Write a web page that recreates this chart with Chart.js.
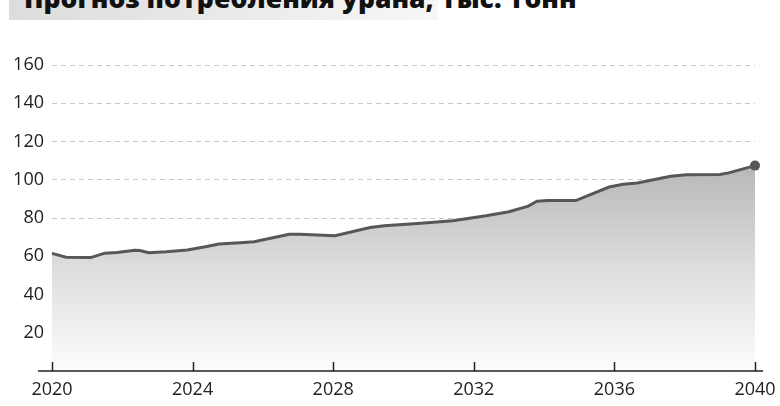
<!DOCTYPE html>
<html>
<head>
<meta charset="utf-8">
<script src="https://cdn.jsdelivr.net/npm/chart.js@4.4.0/dist/chart.umd.min.js"></script>
<style>
  html, body { margin: 0; padding: 0; background: #fff; }
  #wrap { position: relative; width: 780px; height: 406px; overflow: hidden; }
  #titleBox {
    position: absolute; left: 9px; top: 0; width: 429px; height: 20px;
    background: linear-gradient(to right, #dcdcdc, #f7f7f7);
  }
  #title {
    position: absolute; left: 24px; top: -15px; white-space: nowrap;
    font: 800 26.5px/26px "Open Sans", sans-serif; color: #111;
  }
  canvas { position: absolute; left: 0; top: 0; }
</style>
</head>
<body>
<div id="wrap">
  <div id="titleBox"></div>
  <div id="title">Прогноз потребления урана, тыс. тонн</div>
  <canvas id="chart" width="780" height="406"></canvas>
</div>
<script>
// years as decimal positions on the time axis
const years = [2020.0, 2020.4, 2021.1, 2021.5, 2021.85, 2022.35, 2022.5, 2022.75, 2023.25, 2023.85,
               2024.4, 2024.75, 2025.35, 2025.75, 2026.75, 2027.05, 2028.05, 2029.05, 2029.45, 2030.5,
               2031.4, 2032.35, 2033.0, 2033.55, 2033.8, 2034.1, 2034.9, 2035.85, 2036.25, 2036.65,
               2037.6, 2038.05, 2039.0, 2039.25, 2040.0];
const uranium = [61.5, 59.5, 59.3, 61.6, 62.0, 63.1, 63.0, 61.8, 62.3, 63.3,
                 65.1, 66.4, 67.1, 67.6, 71.5, 71.5, 70.7, 75.0, 76.0, 77.3,
                 78.6, 81.2, 83.3, 86.2, 88.8, 89.1, 89.1, 96.2, 97.6, 98.3,
                 101.8, 102.6, 102.8, 103.6, 107.4];
const yearTicks = [2020, 2024, 2028, 2032, 2036, 2040];

const points = years.map((y, i) => ({ x: y, y: uranium[i] }));

// bottom axis line that runs past the plot, with small ticks pointing up
const axisLine = {
  id: "axisLine",
  afterDatasetsDraw(chart) {
    const { ctx, chartArea, scales } = chart;
    const y0 = scales.y.getPixelForValue(0);
    ctx.save();
    ctx.strokeStyle = "#222";
    ctx.lineWidth = 1.5;
    ctx.beginPath();
    ctx.moveTo(chartArea.left - 14, y0);
    ctx.lineTo(chartArea.right + 8, y0);
    yearTicks.forEach(t => {
      const x = Math.round(scales.x.getPixelForValue(t)) + 0.5;
      ctx.moveTo(x, y0);
      ctx.lineTo(x, y0 - 9);
    });
    ctx.stroke();
    ctx.restore();
  }
};

new Chart(document.getElementById("chart"), {
  type: "line",
  data: {
    datasets: [{
      data: points,
      borderColor: "#575757",
      borderWidth: 3,
      tension: 0,
      fill: "origin",
      clip: false,
      backgroundColor: function (c) {
        const area = c.chart.chartArea;
        if (!area) return "#ddd";
        const g = c.chart.ctx.createLinearGradient(0, c.chart.scales.y.getPixelForValue(108), 0, area.bottom);
        g.addColorStop(0, "#b7b7b7");
        g.addColorStop(0.5, "#dddddd");
        g.addColorStop(1, "#fdfdfd");
        return g;
      },
      pointRadius: c => (c.dataIndex === uranium.length - 1 ? 5 : 0),
      pointBackgroundColor: "#575757",
      pointBorderWidth: 0,
      pointHoverRadius: 0
    }]
  },
  options: {
    responsive: false,
    animation: false,
    layout: { padding: { top: 65, right: 25, bottom: 0, left: 0 } },
    plugins: { legend: { display: false }, tooltip: { enabled: false } },
    scales: {
      x: {
        type: "linear",
        min: 2020,
        max: 2040,
        afterFit: s => { s.height = 35; s.paddingLeft = 0; s.paddingRight = 0; },
        afterBuildTicks: s => { s.ticks = yearTicks.map(v => ({ value: v })); },
        ticks: {
          padding: 8,
          color: "#222",
          font: { family: "Open Sans", size: 18 },
          callback: v => String(v)
        },
        grid: { display: false, drawTicks: false },
        border: { display: false }
      },
      y: {
        min: 0,
        max: 160,
        afterFit: s => { s.width = 52; },
        ticks: {
          stepSize: 20,
          padding: 8,
          color: "#222",
          font: { family: "Open Sans", size: 18 },
          callback: v => (v === 0 ? "" : String(v))
        },
        grid: {
          drawTicks: false,
          color: c => (c.tick && c.tick.value === 0 ? "rgba(0,0,0,0)" : "#c8c8c8"),
          lineWidth: 1
        },
        border: { display: false, dash: [5, 4] }
      }
    }
  },
  plugins: [axisLine]
});
</script>
</body>
</html>
